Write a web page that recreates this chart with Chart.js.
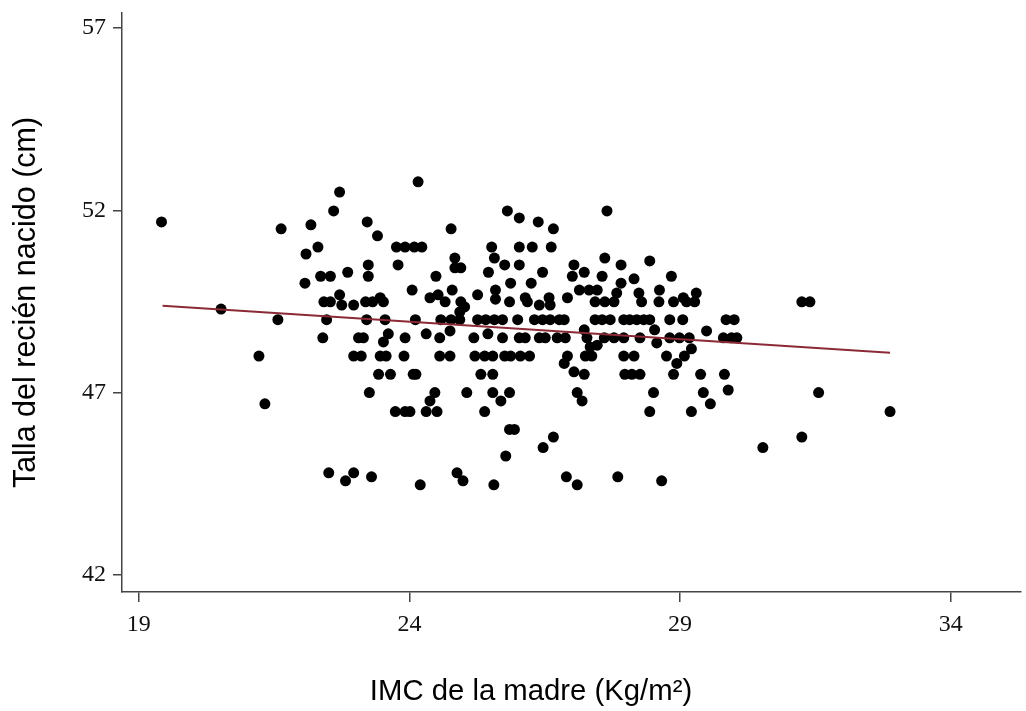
<!DOCTYPE html>
<html lang="es">
<head>
<meta charset="utf-8">
<title>Talla del recién nacido vs IMC de la madre</title>
<script src="https://cdn.jsdelivr.net/npm/chart.js@4.4.0/dist/chart.umd.min.js"></script>
<style>
  html, body { margin: 0; padding: 0; background: #fff; }
  #wrap { width: 1026px; height: 711px; }
</style>
</head>
<body>
<div id="wrap"><canvas id="scatter" width="1026" height="711"></canvas></div>
<script>
// datos: una fila por cada nivel de talla
const tallaRows = [
  52.78, 52.5, 51.98, 51.79, 51.68, 51.6, 51.49, 51.3, 50.99, 50.8,
  50.69, 50.61, 50.5, 50.42, 50.3, 50.19, 50.12, 50.0, 49.81, 49.73,
  49.68, 49.6, 49.56, 49.49, 49.4, 49.35, 49.29, 49.21, 49.0, 48.72,
  48.69, 48.61, 48.5, 48.39, 48.36, 48.3, 48.25, 48.2, 48.0, 47.8,
  47.57, 47.5, 47.07, 47.0, 46.77, 46.69, 46.48, 45.99, 45.78, 45.49,
  45.26, 44.8, 44.69, 44.58, 44.47
];
const imcRows = [
  [24.16],
  [22.71],
  [22.60, 25.81, 27.65],
  [26.03],
  [19.42, 23.22, 26.38],
  [22.18],
  [21.63, 24.77, 26.66],
  [23.41],
  [22.31, 23.76, 23.92, 24.09, 24.23, 25.52, 26.03, 26.27, 26.62],
  [22.09],
  [24.84, 25.57, 27.61],
  [28.44],
  [23.24, 23.79, 25.76, 26.03, 27.04, 27.91],
  [24.84, 24.95],
  [22.86, 25.46, 26.46, 27.23],
  [22.36, 22.54, 23.24, 24.49, 27.01, 27.56, 28.84],
  [28.15],
  [22.07, 25.87, 26.25, 27.91],
  [24.05, 24.79, 25.59, 27.14, 27.32, 27.47, 28.62],
  [27.83, 28.24, 29.30],
  [22.71, 24.53, 25.26],
  [23.46, 24.38, 26.14, 26.58, 26.92, 29.06],
  [25.59],
  [22.42, 22.54, 23.19, 23.32, 23.52, 24.66, 24.95, 25.85, 26.18, 27.43, 27.61, 27.78, 28.29, 28.61, 28.88, 29.12, 29.27, 31.25, 31.40],
  [22.75, 22.97, 26.40, 26.60],
  [25.02],
  [20.52],
  [24.93],
  [21.57, 22.47, 23.21, 23.55, 24.11, 24.58, 24.77, 24.93, 25.26, 25.41, 25.57, 25.72, 26.00, 26.31, 26.46, 26.60, 26.77, 26.86, 27.43, 27.56, 27.71, 27.96, 28.07, 28.20, 28.33, 28.44, 28.81, 29.05, 29.85, 30.00],
  [27.23, 28.53],
  [24.75, 29.49],
  [23.61, 24.31, 25.45],
  [22.40, 23.06, 23.15, 23.92, 24.56, 25.19, 25.72, 26.03, 26.14, 26.40, 26.51, 26.73, 26.88, 27.28, 27.60, 27.78, 27.96, 28.26, 28.81, 28.99, 29.17, 29.80, 29.95, 30.05],
  [23.52],
  [28.57],
  [27.47],
  [27.34],
  [29.21],
  [21.22, 22.97, 23.11, 23.46, 23.57, 23.90, 24.56, 24.75, 25.21, 25.39, 25.54, 25.76, 25.87, 26.05, 26.22, 26.92, 27.25, 27.37, 27.96, 28.15, 28.75, 29.08],
  [26.86, 28.94],
  [27.04],
  [23.43, 23.65, 24.07, 24.12, 25.32, 25.54, 27.23, 27.98, 28.11, 28.26, 28.88, 29.38, 29.82],
  [29.89],
  [23.26, 24.47, 25.06, 25.54, 25.85, 27.10, 28.51, 29.43, 31.56],
  [24.38, 25.69, 27.19],
  [21.33, 29.56],
  [23.74, 23.92, 24.01, 24.31, 24.51, 25.39, 28.44, 29.21, 32.88],
  [25.85, 25.94],
  [26.66, 31.25],
  [26.47, 30.53],
  [25.78],
  [22.51, 22.97, 24.88],
  [23.30, 26.90, 27.85],
  [22.82, 24.99, 28.66],
  [24.20, 25.56, 27.10]
];

// recta de ajuste (extremos)
const fitImc = [19.44, 32.88];
const fitTalla = [49.38, 48.09];

const xTicks = [19, 24, 29, 34];
const yTicks = [42, 47, 52, 57];

const xTitle = 'IMC de la madre (Kg/m²)';
const yTitle = 'Talla del recién nacido (cm)';

const points = [];
tallaRows.forEach((talla, i) => {
  imcRows[i].forEach((imc) => points.push({ x: imc, y: talla }));
});
const fitLine = fitImc.map((imc, i) => ({ x: imc, y: fitTalla[i] }));

const axisColor = '#444';
const sansFamily = "'Liberation Sans', Arial, sans-serif";
const tickFont = { family: "'Liberation Serif', 'Times New Roman', serif", size: 24 };

// sin margenes extra por las etiquetas: el area del grafico queda fija
const noLabelPadding = (scale) => {
  scale.paddingTop = 0;
  scale.paddingBottom = 0;
  scale.paddingLeft = 0;
  scale.paddingRight = 0;
};

// titulo del eje x, algo desplazado a la izquierda como en el original
const xTitlePlugin = {
  id: 'xTitle',
  afterDraw(chart) {
    const ctx = chart.ctx;
    ctx.save();
    ctx.font = '29.3px ' + sansFamily;
    ctx.fillStyle = '#000';
    ctx.textAlign = 'center';
    ctx.textBaseline = 'alphabetic';
    ctx.fillText(xTitle, 531, 700);
    ctx.restore();
  }
};

new Chart(document.getElementById('scatter'), {
  type: 'scatter',
  data: {
    datasets: [
      {
        type: 'line',
        data: fitLine,
        borderColor: '#8b2a36',
        borderWidth: 2,
        pointRadius: 0,
        fill: false,
        order: 0
      },
      {
        data: points,
        backgroundColor: '#000',
        borderColor: '#000',
        borderWidth: 0,
        pointRadius: 5.5,
        order: 1
      }
    ]
  },
  options: {
    responsive: false,
    animation: false,
    layout: { padding: { top: 13, right: 0, bottom: 0, left: 0 } },
    plugins: {
      legend: { display: false },
      tooltip: { enabled: false }
    },
    scales: {
      x: {
        type: 'linear',
        min: 18.69,
        max: 35.29,
        afterBuildTicks: (scale) => { scale.ticks = xTicks.map((v) => ({ value: v })); },
        afterFit: (scale) => { scale.height = 119; noLabelPadding(scale); },
        border: { display: true, color: axisColor, width: 1.5 },
        grid: { drawOnChartArea: false, drawTicks: true, tickLength: 10, color: axisColor, lineWidth: 1.5 },
        ticks: { color: '#111', font: tickFont, padding: 8, maxRotation: 0 },
        title: { display: false }
      },
      y: {
        type: 'linear',
        min: 41.53,
        max: 57.41,
        afterBuildTicks: (scale) => { scale.ticks = yTicks.map((v) => ({ value: v })); },
        afterFit: (scale) => { scale.width = 122; noLabelPadding(scale); },
        border: { display: true, color: axisColor, width: 1.5 },
        grid: { drawOnChartArea: false, drawTicks: true, tickLength: 9, color: axisColor, lineWidth: 1.5 },
        ticks: { color: '#111', font: tickFont, padding: 7 },
        title: {
          display: true,
          text: yTitle,
          color: '#000',
          font: { family: sansFamily, size: 30.5 },
          padding: { top: 8, bottom: 0 }
        }
      }
    }
  },
  plugins: [xTitlePlugin]
});
</script>
</body>
</html>
